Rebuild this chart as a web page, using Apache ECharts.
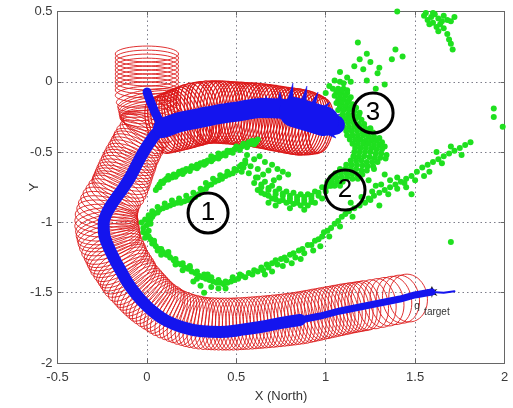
<!DOCTYPE html>
<html>
<head>
<meta charset="utf-8">
<script src="https://cdn.jsdelivr.net/npm/echarts@6/dist/echarts.min.js"></script>
<style>
  html, body { margin: 0; padding: 0; background: #ffffff; }
  #chart { width: 513px; height: 408px; }
</style>
</head>
<body>
<div id="chart"></div>
<script>
// Axis ranges and tick step
const xRange = [-0.5, 2];
const yRange = [-2, 0.5];
const tickStep = 0.5;

// Uncertainty tube along the main trajectory: [x, y, radius, projected ring ratio]
const tubeMain = [
  [1.461,-1.538,0.170,0.80],[1.421,-1.546,0.171,0.76],[1.382,-1.555,0.172,0.72],[1.343,-1.564,0.173,0.68],
  [1.304,-1.573,0.174,0.64],[1.265,-1.582,0.175,0.61],[1.225,-1.590,0.176,0.58],[1.206,-1.595,0.176,0.57],
  [1.186,-1.599,0.177,0.55],[1.167,-1.603,0.177,0.54],[1.147,-1.607,0.178,0.53],[1.128,-1.611,0.178,0.52],
  [1.108,-1.616,0.179,0.51],[1.089,-1.621,0.179,0.50],[1.069,-1.626,0.180,0.49],[1.050,-1.631,0.180,0.48],
  [1.030,-1.636,0.181,0.47],[1.010,-1.641,0.181,0.47],[0.990,-1.646,0.182,0.46],[0.971,-1.651,0.182,0.46],
  [0.951,-1.656,0.183,0.45],[0.932,-1.661,0.183,0.45],[0.912,-1.666,0.184,0.44],[0.893,-1.671,0.184,0.44],
  [0.873,-1.676,0.185,0.43],[0.854,-1.680,0.185,0.43],[0.834,-1.684,0.185,0.42],[0.815,-1.687,0.185,0.42],
  [0.795,-1.690,0.185,0.42],[0.776,-1.693,0.185,0.42],[0.756,-1.696,0.185,0.41],[0.736,-1.699,0.185,0.41],
  [0.716,-1.701,0.185,0.41],[0.697,-1.704,0.185,0.41],[0.677,-1.706,0.185,0.40],[0.658,-1.708,0.185,0.40],
  [0.638,-1.710,0.185,0.40],[0.619,-1.712,0.185,0.40],[0.599,-1.714,0.185,0.40],[0.580,-1.716,0.185,0.40],
  [0.560,-1.718,0.185,0.40],[0.540,-1.719,0.185,0.40],[0.520,-1.720,0.185,0.40],[0.501,-1.722,0.185,0.40],
  [0.481,-1.723,0.185,0.40],[0.462,-1.723,0.185,0.40],[0.442,-1.723,0.185,0.40],[0.423,-1.723,0.185,0.40],
  [0.403,-1.723,0.185,0.40],[0.384,-1.722,0.185,0.40],[0.364,-1.721,0.185,0.40],[0.345,-1.720,0.185,0.40],
  [0.325,-1.719,0.185,0.40],[0.306,-1.716,0.185,0.40],[0.286,-1.712,0.185,0.40],[0.267,-1.707,0.185,0.40],
  [0.247,-1.701,0.185,0.40],[0.227,-1.694,0.184,0.40],[0.207,-1.687,0.184,0.40],[0.188,-1.678,0.183,0.40],
  [0.168,-1.669,0.183,0.40],[0.149,-1.659,0.182,0.40],[0.129,-1.648,0.182,0.40],[0.112,-1.636,0.181,0.40],
  [0.096,-1.623,0.181,0.40],[0.079,-1.609,0.180,0.40],[0.062,-1.595,0.180,0.40],[0.045,-1.579,0.180,0.40],
  [0.029,-1.563,0.180,0.40],[0.015,-1.547,0.180,0.40],[0.001,-1.531,0.180,0.40],[-0.013,-1.513,0.180,0.40],
  [-0.027,-1.495,0.180,0.40],[-0.041,-1.476,0.180,0.40],[-0.055,-1.456,0.180,0.40],[-0.069,-1.437,0.180,0.40],
  [-0.083,-1.417,0.180,0.40],[-0.095,-1.396,0.180,0.40],[-0.106,-1.374,0.180,0.40],[-0.117,-1.353,0.180,0.40],
  [-0.128,-1.331,0.180,0.40],[-0.139,-1.310,0.180,0.40],[-0.150,-1.289,0.180,0.40],[-0.159,-1.268,0.180,0.40],
  [-0.167,-1.246,0.180,0.40],[-0.176,-1.223,0.180,0.40],[-0.184,-1.200,0.180,0.40],[-0.193,-1.177,0.180,0.40],
  [-0.201,-1.154,0.180,0.40],[-0.207,-1.131,0.180,0.40],[-0.212,-1.107,0.180,0.40],[-0.216,-1.084,0.180,0.40],
  [-0.220,-1.061,0.180,0.40],[-0.223,-1.037,0.179,0.40],[-0.226,-1.012,0.178,0.40],[-0.226,-0.987,0.177,0.40],
  [-0.226,-0.962,0.176,0.40],[-0.222,-0.937,0.175,0.40],[-0.218,-0.912,0.174,0.40],[-0.211,-0.887,0.173,0.40],
  [-0.204,-0.862,0.172,0.40],[-0.194,-0.837,0.171,0.40],[-0.184,-0.812,0.170,0.40],[-0.172,-0.789,0.169,0.40],
  [-0.161,-0.766,0.168,0.40],[-0.153,-0.743,0.167,0.40],[-0.145,-0.720,0.166,0.40],[-0.138,-0.697,0.165,0.40],
  [-0.131,-0.674,0.164,0.40],[-0.124,-0.651,0.163,0.40],[-0.117,-0.627,0.162,0.40],[-0.110,-0.606,0.161,0.40],
  [-0.103,-0.585,0.160,0.40],[-0.096,-0.564,0.159,0.40],[-0.089,-0.542,0.158,0.40],[-0.081,-0.521,0.157,0.40],
  [-0.072,-0.499,0.156,0.40],[-0.064,-0.478,0.156,0.40],[-0.055,-0.457,0.155,0.40],[-0.047,-0.436,0.155,0.40],
  [-0.039,-0.414,0.155,0.40],[-0.028,-0.393,0.156,0.39],[-0.016,-0.371,0.158,0.38],[-0.005,-0.350,0.160,0.37],
  [0.006,-0.329,0.162,0.36],[0.012,-0.304,0.164,0.35],[0.017,-0.279,0.166,0.34],[0.017,-0.254,0.168,0.33],
  [0.017,-0.229,0.170,0.32],[0.015,-0.204,0.172,0.31],[0.012,-0.179,0.173,0.30],[0.009,-0.158,0.174,0.29],
  [0.006,-0.137,0.175,0.28],[0.002,-0.115,0.176,0.26],[0.000,-0.087,0.177,0.25],[0.000,-0.058,0.177,0.25],
  [0.000,-0.030,0.177,0.25],[0.000,-0.001,0.177,0.25],[0.000,0.027,0.177,0.25],[0.000,0.055,0.177,0.25],
  [0.000,0.084,0.177,0.25],[0.000,0.112,0.177,0.25],[0.000,0.141,0.177,0.25],[0.000,0.169,0.177,0.25],
  [0.000,0.198,0.177,0.25]
];

// Uncertainty tube along the eastern branch
const tubeBranch = [
  [0.073,-0.314,0.200,0.45],[0.090,-0.307,0.203,0.45],[0.107,-0.300,0.205,0.45],[0.124,-0.293,0.208,0.45],
  [0.140,-0.286,0.210,0.45],[0.157,-0.279,0.212,0.45],[0.174,-0.272,0.214,0.45],[0.190,-0.265,0.216,0.45],
  [0.207,-0.257,0.217,0.45],[0.224,-0.250,0.219,0.45],[0.241,-0.243,0.220,0.45],[0.258,-0.236,0.221,0.45],
  [0.275,-0.229,0.222,0.45],[0.292,-0.225,0.222,0.45],[0.308,-0.222,0.222,0.45],[0.325,-0.218,0.222,0.45],
  [0.342,-0.215,0.222,0.45],[0.358,-0.215,0.222,0.45],[0.375,-0.215,0.222,0.45],[0.392,-0.215,0.222,0.45],
  [0.408,-0.215,0.222,0.45],[0.425,-0.216,0.222,0.45],[0.442,-0.218,0.222,0.45],[0.459,-0.220,0.222,0.45],
  [0.476,-0.222,0.222,0.45],[0.492,-0.223,0.223,0.45],[0.509,-0.225,0.223,0.45],[0.526,-0.227,0.224,0.45],
  [0.543,-0.229,0.224,0.45],[0.560,-0.231,0.225,0.45],[0.576,-0.233,0.225,0.45],[0.593,-0.234,0.226,0.45],
  [0.610,-0.236,0.226,0.45],[0.627,-0.239,0.227,0.45],[0.644,-0.243,0.227,0.45],[0.660,-0.246,0.228,0.45],
  [0.677,-0.250,0.228,0.45],[0.694,-0.253,0.229,0.45],[0.711,-0.257,0.229,0.45],[0.728,-0.261,0.230,0.45],
  [0.744,-0.265,0.230,0.45],[0.761,-0.268,0.231,0.45],[0.778,-0.272,0.231,0.45],[0.795,-0.275,0.232,0.45],
  [0.812,-0.279,0.232,0.45],[0.828,-0.282,0.233,0.45],[0.845,-0.286,0.233,0.45],[0.862,-0.289,0.232,0.45],
  [0.879,-0.293,0.230,0.45],[0.896,-0.296,0.226,0.45],[0.912,-0.300,0.222,0.45],[0.929,-0.303,0.216,0.45],
  [0.946,-0.307,0.210,0.45],[0.960,-0.309,0.203,0.45],[0.974,-0.311,0.195,0.45]
];

// Estimated trajectory (blue), split by spread
const blueTail = [[1.594,-1.495],[1.66,-1.500],[1.72,-1.490]];
const blueBottom = [[1.594,-1.495],[1.499,-1.516],[1.415,-1.545],[1.303,-1.573],[1.191,-1.602],
  [1.080,-1.630],[0.968,-1.666],[0.856,-1.694]];
const blueCurve = [[0.856,-1.694],[0.744,-1.716],[0.633,-1.744],[0.521,-1.765],[0.409,-1.779],
  [0.297,-1.772],[0.196,-1.744],[0.112,-1.701],[0.045,-1.645],[-0.011,-1.581],[-0.061,-1.509],
  [-0.106,-1.431],[-0.145,-1.346],[-0.180,-1.265],[-0.205,-1.200],[-0.226,-1.140],[-0.240,-1.075],
  [-0.242,-1.010],[-0.230,-0.950],[-0.205,-0.888],[-0.170,-0.822],[-0.130,-0.752],[-0.090,-0.670],
  [-0.055,-0.585],[-0.022,-0.506],[0.017,-0.428],[0.051,-0.371],[0.090,-0.329]];
const blueStem = [[0.090,-0.329],[0.045,-0.216],[0.012,-0.116],[0.001,-0.073]];
const blueBranch = [[0.090,-0.329],[0.185,-0.286],[0.297,-0.257],[0.409,-0.229],[0.521,-0.208],
  [0.633,-0.186],[0.761,-0.193],[0.856,-0.222],[0.951,-0.265],[1.052,-0.307]];
const blueBlob = [[0.823,-0.215],[0.990,-0.279]];
// Orientation spikes at the end of the branch: [baseX, baseY, tipX, tipY]
const blueSpikes = [
  [0.800,-0.144,0.817,-0.009],[0.873,-0.158,0.895,-0.030],[0.923,-0.186,0.957,-0.073],
  [0.744,-0.158,0.744,-0.073],[0.677,-0.172,0.666,-0.101],[0.968,-0.215,1.024,-0.144],
  [1.024,-0.258,1.085,-0.229],[1.035,-0.315,1.097,-0.321],[1.013,-0.357,1.057,-0.400]
];

// Landmark observations (green)
const greenLoop = [
  [0.62,-0.41],[0.61,-0.43],[0.59,-0.42],[0.58,-0.44],[0.57,-0.43],[0.55,-0.45],[0.54,-0.44],[0.53,-0.46],
  [0.51,-0.47],[0.50,-0.46],[0.49,-0.48],[0.47,-0.49],[0.46,-0.50],[0.45,-0.49],[0.43,-0.51],[0.42,-0.52],
  [0.41,-0.53],[0.40,-0.51],[0.38,-0.54],[0.37,-0.55],[0.36,-0.53],[0.34,-0.56],[0.33,-0.58],[0.32,-0.57],
  [0.30,-0.58],[0.29,-0.60],[0.28,-0.59],[0.26,-0.61],[0.25,-0.60],[0.24,-0.62],[0.22,-0.62],[0.21,-0.64],
  [0.20,-0.63],[0.18,-0.64],[0.17,-0.66],[0.15,-0.66],[0.14,-0.68],[0.12,-0.67],[0.11,-0.69],[0.10,-0.70],
  [0.08,-0.71],[0.07,-0.73],[0.06,-0.75],[0.05,-0.77],
  [0.60,-0.445],[0.56,-0.465],[0.52,-0.485],[0.48,-0.505],[0.44,-0.525],[0.40,-0.545],[0.36,-0.565],
  [0.32,-0.59],[0.28,-0.615],[0.24,-0.635],[0.20,-0.655],[0.16,-0.675],[0.12,-0.695],[0.09,-0.72],[0.07,-0.75],
  [0.55,-0.58],[0.54,-0.61],[0.53,-0.64],[0.52,-0.60],[0.50,-0.63],[0.48,-0.65],[0.46,-0.66],[0.44,-0.67],
  [0.42,-0.69],[0.40,-0.70],[0.38,-0.71],[0.36,-0.73],[0.34,-0.74],[0.33,-0.76],[0.31,-0.78],[0.29,-0.80],
  [0.27,-0.82],[0.25,-0.83],[0.23,-0.84],[0.21,-0.85],[0.19,-0.86],[0.17,-0.86],[0.15,-0.87],[0.13,-0.88],
  [0.11,-0.89],[0.09,-0.90],[0.07,-0.91],[0.06,-0.93],[0.04,-0.94],[0.03,-0.96],[0.02,-0.98],[0.01,-1.00],
  [0.00,-1.02],
  [0.53,-0.59],[0.49,-0.62],[0.45,-0.64],[0.41,-0.665],[0.37,-0.69],[0.33,-0.72],[0.30,-0.76],[0.26,-0.79],
  [0.22,-0.81],[0.18,-0.83],[0.14,-0.845],[0.10,-0.865],[0.06,-0.89],[0.03,-0.92],[0.01,-0.95],[-0.01,-0.98],
  [-0.02,-1.04],[-0.02,-1.07],[0.00,-1.09],[-0.01,-1.11],[0.02,-1.12],[0.03,-1.15],[0.05,-1.17],[0.07,-1.19],
  [0.09,-1.21],[0.11,-1.23],[0.13,-1.25],[0.15,-1.27],[0.17,-1.29],[0.19,-1.30],[0.21,-1.32],[0.23,-1.33],
  [0.25,-1.35],[0.27,-1.36],[0.29,-1.38],[0.31,-1.39],[0.33,-1.40],[0.35,-1.41],[0.37,-1.42],[0.39,-1.43],
  [0.41,-1.43],[0.43,-1.44],[0.45,-1.43],[0.47,-1.42],[0.49,-1.41],[0.51,-1.40],
  [0.01,-1.10],[0.04,-1.15],[0.08,-1.19],[0.12,-1.23],[0.16,-1.26],[0.20,-1.29],[0.24,-1.32],[0.28,-1.35],
  [0.32,-1.37],[0.36,-1.39],[0.40,-1.41],[0.44,-1.42],[0.48,-1.39],[0.52,-1.37],
  [0.04,-1.13],[0.08,-1.23],[0.12,-1.21],[0.16,-1.30],[0.20,-1.34],[0.24,-1.31],[0.28,-1.40],[0.30,-1.45],
  [0.26,-1.42],[0.32,-1.50],[0.36,-1.46],[0.40,-1.47],[0.44,-1.47],[0.34,-1.37],[0.06,-1.20],[0.01,-1.06],
  [-0.03,-1.00],[0.02,-1.01]
];
const greenBand2 = [
  [0.56,-0.52],[0.60,-0.55],[0.63,-0.53],[0.66,-0.57],[0.70,-0.59],[0.73,-0.62],[0.76,-0.64],[0.79,-0.66],
  [0.58,-0.60],[0.62,-0.62],[0.68,-0.63],[0.74,-0.68],[0.65,-0.66],[0.71,-0.70],[0.61,-0.68],[0.57,-0.65],
  [0.55,-0.56],
  [0.62,-0.68],[0.66,-0.71],[0.70,-0.74],[0.74,-0.76],[0.78,-0.78],[0.82,-0.79],[0.86,-0.80],[0.90,-0.80],
  [0.94,-0.78],[0.98,-0.75],[1.01,-0.71],[1.04,-0.68],
  [0.64,-0.73],[0.68,-0.755],[0.72,-0.78],[0.76,-0.795],[0.80,-0.81],[0.84,-0.82],[0.88,-0.82],[0.92,-0.81],
  [0.96,-0.79],[1.00,-0.755],
  [0.60,-0.72],[0.64,-0.75],[0.68,-0.77],[0.72,-0.80],[0.76,-0.81],[0.80,-0.83],[0.84,-0.84],[0.88,-0.84],
  [0.92,-0.83],[0.96,-0.81],[1.00,-0.78],[1.03,-0.74],
  [0.64,-0.79],[0.68,-0.81],[0.72,-0.835],[0.76,-0.84],[0.80,-0.85],[0.84,-0.86],[0.88,-0.86],[0.92,-0.855],
  [0.62,-0.77],[0.66,-0.80],[0.70,-0.83],[0.74,-0.85],[0.78,-0.86],[0.82,-0.87],[0.86,-0.88],[0.90,-0.88],
  [0.94,-0.86],[0.98,-0.83],
  [0.72,-0.88],[0.80,-0.90],[0.88,-0.91],[0.68,-0.86]
];
const greenBand3 = [
  [1.05,0.01],[1.08,0.00],[1.10,-0.01],
  [1.04,-0.05],[1.07,-0.05],[1.10,-0.05],[1.12,-0.06],
  [1.06,-0.075],[1.09,-0.075],[1.12,-0.08],
  [1.05,-0.10],[1.08,-0.10],[1.11,-0.10],[1.14,-0.11],
  [1.07,-0.125],[1.10,-0.125],[1.13,-0.13],
  [1.06,-0.15],[1.09,-0.15],[1.12,-0.15],[1.15,-0.16],
  [1.08,-0.175],[1.11,-0.175],[1.14,-0.18],[1.17,-0.185],
  [1.07,-0.20],[1.10,-0.20],[1.13,-0.20],[1.16,-0.21],[1.19,-0.22],
  [1.095,-0.23],[1.125,-0.23],[1.155,-0.235],[1.185,-0.24],
  [1.08,-0.26],[1.11,-0.26],[1.14,-0.26],[1.17,-0.26],[1.20,-0.27],
  [1.095,-0.29],[1.125,-0.29],[1.155,-0.29],[1.185,-0.30],[1.215,-0.30],
  [1.10,-0.32],[1.13,-0.32],[1.16,-0.32],[1.19,-0.32],[1.22,-0.33],[1.25,-0.33],
  [1.115,-0.35],[1.145,-0.35],[1.175,-0.35],[1.205,-0.355],[1.235,-0.36],[1.265,-0.36],
  [1.12,-0.38],[1.15,-0.38],[1.18,-0.38],[1.21,-0.38],[1.24,-0.39],[1.27,-0.39],[1.30,-0.40],
  [1.135,-0.41],[1.165,-0.41],[1.195,-0.41],[1.225,-0.415],[1.255,-0.42],[1.285,-0.42],[1.315,-0.43],
  [1.15,-0.44],[1.18,-0.44],[1.21,-0.44],[1.24,-0.44],[1.27,-0.45],[1.30,-0.45],[1.33,-0.46],
  [1.165,-0.47],[1.195,-0.47],[1.225,-0.47],[1.255,-0.475],[1.285,-0.48],[1.315,-0.48],
  [1.16,-0.50],[1.19,-0.50],[1.22,-0.50],[1.25,-0.50],[1.28,-0.51],[1.31,-0.51],[1.34,-0.52],
  [1.155,-0.53],[1.185,-0.53],[1.215,-0.53],[1.245,-0.535],[1.275,-0.54],[1.305,-0.54],[1.335,-0.545],
  [1.14,-0.56],[1.17,-0.56],[1.20,-0.56],[1.23,-0.57],[1.26,-0.57],[1.29,-0.57],
  [1.115,-0.59],[1.145,-0.59],[1.175,-0.59],[1.205,-0.595],[1.235,-0.60],[1.265,-0.60],
  [1.08,-0.62],[1.11,-0.62],[1.14,-0.62],[1.17,-0.62],[1.20,-0.63],[1.23,-0.63],
  [1.055,-0.65],[1.085,-0.65],[1.115,-0.65],[1.145,-0.655],[1.175,-0.66],[1.205,-0.66],
  [1.03,-0.68],[1.06,-0.68],[1.09,-0.68],[1.12,-0.68],[1.15,-0.69],[1.18,-0.69],
  [1.035,-0.71],[1.065,-0.71],[1.095,-0.71],
  [1.02,-0.74],[1.05,-0.74],[1.08,-0.74],
  [1.24,-0.70],[1.28,-0.74],[1.25,-0.84],[1.30,-0.88],[1.36,-0.70],[1.40,-0.76],[1.44,-0.72],[1.48,-0.80],
  [1.27,-0.62],[1.33,-0.66]
];
const greenDiagonal = [
  [0.53,-1.38],[0.55,-1.39],[0.57,-1.36],[0.59,-1.37],[0.60,-1.34],[0.62,-1.35],[0.64,-1.32],[0.65,-1.34],
  [0.67,-1.30],[0.68,-1.32],[0.70,-1.29],[0.72,-1.27],[0.73,-1.30],[0.75,-1.26],[0.77,-1.25],[0.78,-1.27],
  [0.80,-1.23],[0.82,-1.22],[0.83,-1.25],[0.85,-1.20],[0.87,-1.19],[0.88,-1.22],[0.90,-1.16],[0.92,-1.16],
  [0.94,-1.13],[0.96,-1.12],[0.98,-1.10],[0.99,-1.07],[1.01,-1.06],[1.03,-1.04],[1.05,-1.01],[1.07,-0.99],
  [1.09,-0.96],[1.11,-0.94],[1.13,-0.92],[1.16,-0.90],[1.19,-0.88],[1.22,-0.86],[1.24,-0.83],[1.27,-0.81],
  [1.30,-0.79],[1.33,-0.77],[1.36,-0.75],[1.39,-0.73],[1.42,-0.71],[1.45,-0.69],[1.48,-0.67],[1.51,-0.64],
  [1.54,-0.61],[1.57,-0.59],[1.60,-0.57],[1.63,-0.55],[1.66,-0.53],[1.69,-0.51],[1.72,-0.49],[1.75,-0.47],
  [1.78,-0.45],[1.81,-0.43],
  [0.76,-1.31],[0.86,-1.26],[0.93,-1.20],[0.97,-1.17],[0.81,-1.29],[1.02,-1.10],[1.08,-1.03],[1.15,-0.96],
  [1.26,-0.78],[1.35,-0.80],[1.31,-0.73],[1.45,-0.75],[1.50,-0.70],[1.58,-0.64],[1.65,-0.58],[1.70,-0.46],
  [1.62,-0.50],[1.76,-0.52],[1.55,-0.67],[1.40,-0.68],[1.20,-0.82],[1.14,-0.86],[0.70,-1.35],[0.66,-1.37]
];
const greenOutliers = [
  [1.18,0.28],[1.19,0.16],[1.23,0.20],[1.25,0.14],[1.39,0.23],[1.37,0.16],[1.43,0.18],[1.29,0.06],
  [1.23,0.01],[1.12,0.03],[1.14,0.00],[1.08,0.07],[1.40,0.50],[1.21,0.09],[1.30,0.10],[1.16,0.11],
  [1.33,-0.02],[1.28,-0.05],[1.02,-0.03],[1.00,-0.08],
  [1.55,0.47],[1.57,0.44],[1.59,0.46],[1.60,0.42],[1.61,0.48],[1.63,0.45],[1.64,0.41],[1.62,0.39],
  [1.66,0.47],[1.68,0.44],[1.70,0.43],[1.58,0.41],[1.65,0.43],[1.72,0.46],[1.60,0.49],[1.56,0.49],
  [1.68,0.34],[1.70,0.27],[1.71,0.23],[1.69,0.30],[1.66,0.38],[1.63,0.36],
  [1.94,-0.19],[1.94,-0.25],[1.99,-0.32],[1.70,-1.14]
];

// Goal position and circled region labels
const targetPoint = [[1.594, -1.495]];
const noteLabels = ['1', '2', '3'];
const noteX = [0.342, 1.108, 1.265];
const noteY = [-0.933, -0.770, -0.222];

const FONT = 'Liberation Sans, Arial, sans-serif';
const RED = '#dc1a1a';
const BLUE = '#1414ee';
const GREEN = '#1fe01f';

// Draw each ring of a tube as an ellipse perpendicular to the local path direction
function ringRenderer(rings, color, width) {
  return function (params, api) {
    const i = params.dataIndex;
    const c = api.coord([api.value(0), api.value(1)]);
    const a = rings[Math.max(0, i - 1)];
    const b = rings[Math.min(rings.length - 1, i + 1)];
    const pa = api.coord([a[0], a[1]]);
    const pb = api.coord([b[0], b[1]]);
    let tx = pb[0] - pa[0], ty = pb[1] - pa[1];
    const len = Math.hypot(tx, ty) || 1;
    tx /= len; ty /= len;
    const nx = -ty, ny = tx;
    const s = api.size([1, 1]);
    const major = api.value(2) / Math.hypot(nx / s[0], ny / s[1]);
    const minor = major * api.value(3);
    const pts = [];
    const n = 44;
    for (let k = 0; k < n; k++) {
      const t = (k / n) * Math.PI * 2;
      const u = Math.cos(t) * major, v = Math.sin(t) * minor;
      pts.push([c[0] + nx * u + tx * v, c[1] + ny * u + ty * v]);
    }
    return {
      type: 'polygon',
      shape: { points: pts },
      style: { fill: 'none', stroke: color, lineWidth: width }
    };
  };
}

function tubeSeries(rings, width) {
  return {
    type: 'custom',
    coordinateSystem: 'cartesian2d',
    silent: true,
    clip: true,
    data: rings,
    renderItem: ringRenderer(rings, RED, width)
  };
}

function blueLine(points, width, smooth) {
  return {
    type: 'line',
    data: points,
    showSymbol: false,
    silent: true,
    clip: true,
    smooth: smooth || false,
    lineStyle: { color: BLUE, width: width, cap: 'round', join: 'round' }
  };
}

const option = {
  backgroundColor: '#ffffff',
  animation: false,
  grid: { left: 57.5, right: 8.5, top: 11.5, bottom: 45, containLabel: false },
  xAxis: [
    {
      type: 'value', min: xRange[0], max: xRange[1], interval: tickStep,
      name: 'X (North)', nameLocation: 'middle', nameGap: 27, nameMoveOverlap: false,
      nameTextStyle: { fontFamily: FONT, fontSize: 13, color: '#333' },
      axisLine: { show: true, onZero: false, lineStyle: { color: '#666', width: 1 } },
      axisTick: { show: true, inside: true, length: 4, lineStyle: { color: '#666' } },
      axisLabel: { fontFamily: FONT, fontSize: 13, color: '#3a3a3a', margin: 8 },
      splitLine: { show: true, lineStyle: { color: '#7d7d8a', type: [1.5, 3], width: 1 } }
    },
    {
      type: 'value', position: 'top', min: xRange[0], max: xRange[1], interval: tickStep,
      axisLine: { show: true, onZero: false, lineStyle: { color: '#666', width: 1 } },
      axisTick: { show: true, inside: true, length: 4, lineStyle: { color: '#666' } },
      axisLabel: { show: false }, splitLine: { show: false }
    }
  ],
  yAxis: [
    {
      type: 'value', min: yRange[0], max: yRange[1], interval: tickStep,
      name: 'Y', nameLocation: 'middle', nameGap: 17, nameRotate: 90, nameMoveOverlap: false,
      nameTextStyle: { fontFamily: FONT, fontSize: 13, color: '#333' },
      axisLine: { show: true, onZero: false, lineStyle: { color: '#666', width: 1 } },
      axisTick: { show: true, inside: true, length: 4, lineStyle: { color: '#666' } },
      axisLabel: { fontFamily: FONT, fontSize: 13, color: '#3a3a3a', margin: 5 },
      splitLine: { show: true, lineStyle: { color: '#7d7d8a', type: [1.5, 3], width: 1 } }
    },
    {
      type: 'value', position: 'right', min: yRange[0], max: yRange[1], interval: tickStep,
      axisLine: { show: true, onZero: false, lineStyle: { color: '#666', width: 1 } },
      axisTick: { show: true, inside: true, length: 4, lineStyle: { color: '#666' } },
      axisLabel: { show: false }, splitLine: { show: false }
    }
  ],
  series: [
    tubeSeries(tubeMain, 0.9),
    tubeSeries(tubeBranch, 1.2),
    {
      type: 'scatter',
      data: [].concat(greenLoop, greenBand2, greenBand3, greenDiagonal, greenOutliers),
      symbol: 'circle',
      symbolSize: 6,
      silent: true,
      clip: true,
      itemStyle: { color: GREEN, opacity: 1 }
    },
    blueLine(blueTail, 2),
    blueLine(blueBottom, 7),
    blueLine(blueCurve, 12, 0.5),
    blueLine(blueStem, 9),
    blueLine(blueBranch, 20, 0.3),
    blueLine(blueBlob, 30),
    {
      type: 'custom',
      coordinateSystem: 'cartesian2d',
      silent: true,
      data: blueSpikes,
      renderItem: function (params, api) {
        const p0 = api.coord([api.value(0), api.value(1)]);
        const p1 = api.coord([api.value(2), api.value(3)]);
        const dx = p1[0] - p0[0], dy = p1[1] - p0[1];
        const l = Math.hypot(dx, dy) || 1;
        const w = 3;
        const nx = -dy / l * w, ny = dx / l * w;
        return {
          type: 'polygon',
          shape: { points: [[p0[0] + nx, p0[1] + ny], p1, [p0[0] - nx, p0[1] - ny]] },
          style: { fill: BLUE, stroke: BLUE, lineWidth: 0.5 }
        };
      }
    },
    {
      type: 'scatter',
      data: targetPoint,
      symbol: 'path://M0,-6 L2,-2 L6,-3 L3,0 L6,4 L1,2 L0,6 L-1,2 L-6,4 L-3,0 L-6,-3 L-2,-2 Z',
      symbolSize: [11, 12],
      silent: true,
      itemStyle: { color: '#111', opacity: 1 }
    },
    {
      type: 'custom',
      coordinateSystem: 'cartesian2d',
      silent: true,
      data: targetPoint,
      renderItem: function (params, api) {
        const c = api.coord([api.value(0), api.value(1)]);
        return {
          type: 'group',
          children: [
            { type: 'text', x: c[0] - 15, y: c[1] + 14,
              style: { text: 'q', font: '10px ' + FONT, fill: '#333', align: 'center', verticalAlign: 'middle' } },
            { type: 'text', x: c[0] + 5, y: c[1] + 20,
              style: { text: 'target', font: '10px ' + FONT, fill: '#333', align: 'center', verticalAlign: 'middle' } }
          ]
        };
      }
    },
    {
      type: 'scatter',
      data: noteLabels.map(function (t, i) { return { name: t, value: [noteX[i], noteY[i]] }; }),
      symbol: 'circle',
      symbolSize: 40,
      silent: true,
      itemStyle: { color: 'rgba(255,255,255,0)', borderColor: '#000', borderWidth: 3, opacity: 1 },
      label: {
        show: true, position: 'inside', formatter: '{b}',
        fontFamily: FONT, fontSize: 26, color: '#000'
      }
    }
  ]
};

const chart = echarts.init(document.getElementById('chart'), null, { renderer: 'canvas' });
chart.setOption(option);
</script>
</body>
</html>
